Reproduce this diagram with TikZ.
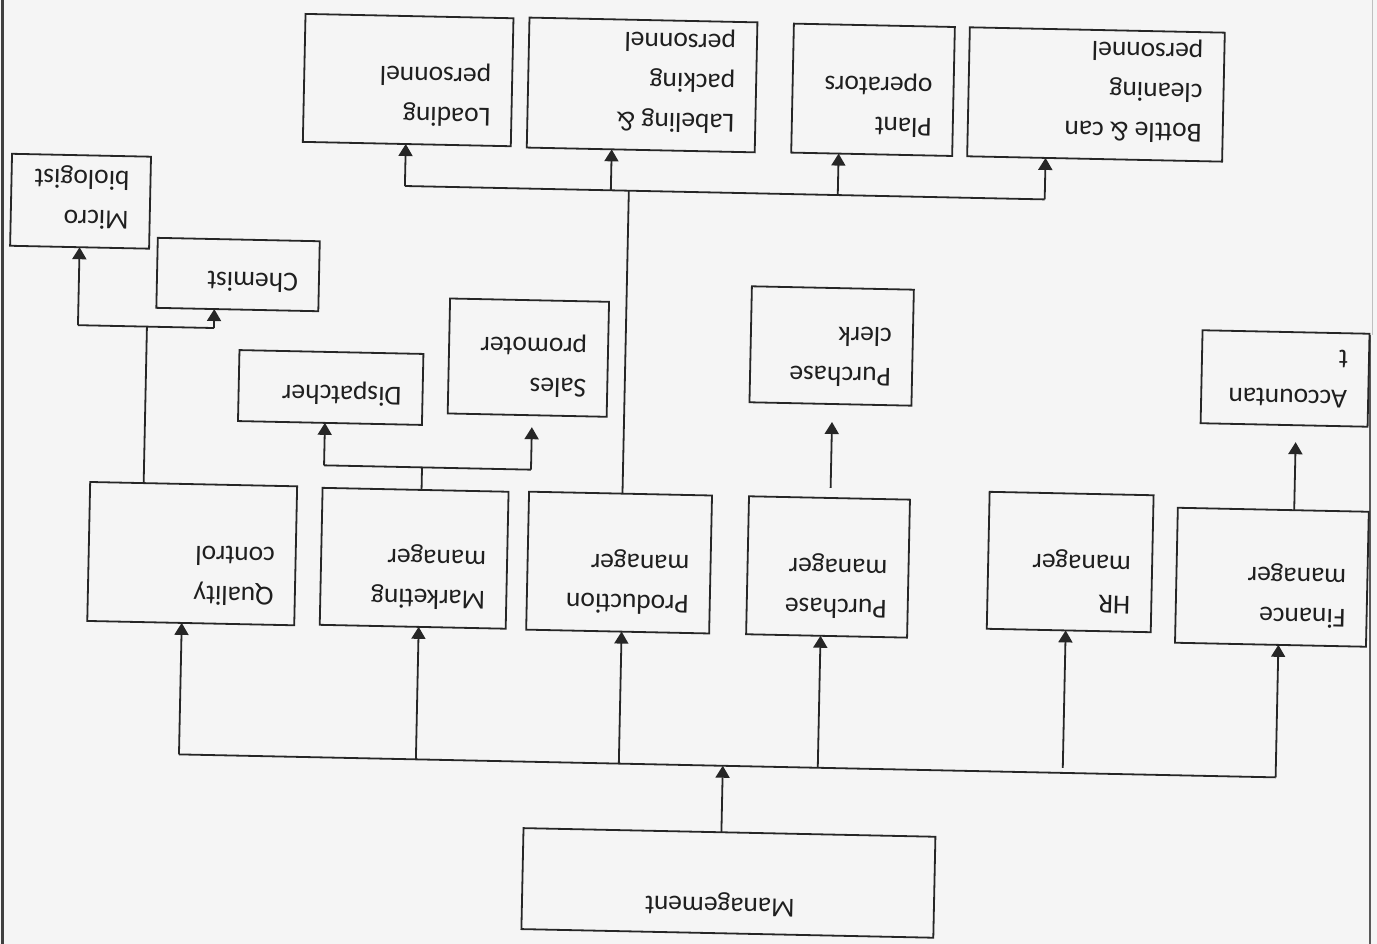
\documentclass[tikz,border=0pt]{standalone}
\usepackage{fontspec}
\setmainfont{Carlito}
\usepackage{tikz}
\usetikzlibrary{arrows.meta}
\newcommand{\unitfont}{\fontsize{27.5}{40}\selectfont}
\newcommand{\unitpad}{21}
\tikzstyle{unit}=[draw=black!85, line width=1.8pt, inner sep=0, outer sep=0]
\tikzstyle{unittext}=[inner sep=0, outer sep=0, rotate=180, align=left, font=\unitfont, text=black!88]
\tikzstyle{link}=[draw=black!85, line width=1.8pt]
\tikzstyle{uplink}=[link, -{Triangle[length=12pt, width=14pt]}]
\tikzstyle{orgchart}=[x=1pt, y=-1pt,
                      % the scanned page is turned a little
                      tilt/.style={rotate around={-1.2:(688,472)}, transform shape}]

\begin{document}
\begin{tikzpicture}[orgchart]
    \useasboundingbox[fill=black!4] (0,0) rectangle (1377,944);
    \draw[line width=3pt, black!75] (2,0) -- (2,944);
    \draw[line width=1pt, black!25] (1372,0) -- (1372,335);
    \draw[line width=2.5pt, black!65] (1370,335) -- (1370,944);
    \begin{scope}[tilt]
        % top row
        \node[unit, minimum width=208, minimum height=128] (load) at (400,86) {};
        \node[unit, minimum width=228, minimum height=130] (pack) at (634,86) {};
        \node[unit, minimum width=161, minimum height=129] (plant) at (865,86) {};
        \node[unit, minimum width=255, minimum height=129] (bottle) at (1088,86) {};
        \node[unit, minimum width=139, minimum height=92] (micro) at (75,214) {};
        \node[unit, minimum width=162, minimum height=70] (chem) at (234,284) {};
        \node[unit, minimum width=184, minimum height=71] (disp) at (329,395) {};
        \node[unit, minimum width=159, minimum height=115] (sales) at (526,361) {};
        \node[unit, minimum width=162, minimum height=116] (clerk) at (829,343) {};
        \node[unit, minimum width=167, minimum height=93] (acct) at (1283,366) {};
        % managers
        \node[unit, minimum width=207, minimum height=139] (qc) at (194,564) {};
        \node[unit, minimum width=186, minimum height=137] (mkt) at (416,564) {};
        \node[unit, minimum width=183, minimum height=138] (prod) at (621,564) {};
        \node[unit, minimum width=161, minimum height=138] (pm) at (830,564) {};
        \node[unit, minimum width=164, minimum height=137] (hr) at (1072,554) {};
        \node[unit, minimum width=191, minimum height=135] (fm) at (1274,565) {};
        \node[unit, minimum width=412, minimum height=101] (mgmt) at (737,882) {};

        \node[unittext, anchor=north west] (loadtext) at ([shift={(-\unitpad,-18)}]load.south east) {Loading\\personnel};
        \node[unittext, anchor=north west] (packtext) at ([shift={(-\unitpad,-18)}]pack.south east) {Labeling \&\\packing\\personnel};
        \node[unittext, anchor=north west] (planttext) at ([shift={(-\unitpad,-18)}]plant.south east) {Plant\\operators};
        \node[unittext, anchor=north west] (bottletext) at ([shift={(-\unitpad,-18)}]bottle.south east) {Bottle \& can\\cleaning\\personnel};
        \node[unittext, anchor=north west] (microtext) at ([shift={(-\unitpad,-18)}]micro.south east) {Micro\\biologist};
        \node[unittext, anchor=north west] (chemtext) at ([shift={(-\unitpad,-18)}]chem.south east) {Chemist};
        \node[unittext, anchor=north west] (disptext) at ([shift={(-\unitpad,-18)}]disp.south east) {Dispatcher};
        \node[unittext, anchor=north west] (salestext) at ([shift={(-\unitpad,-18)}]sales.south east) {Sales\\promoter};
        \node[unittext, anchor=north west] (clerktext) at ([shift={(-\unitpad,-18)}]clerk.south east) {Purchase\\clerk};
        \node[unittext, anchor=north west] (accttext) at ([shift={(-\unitpad,-18)}]acct.south east) {Accountan\\t};
        \node[unittext, anchor=north west] (qctext) at ([shift={(-\unitpad,-18)}]qc.south east) {Quality\\control};
        \node[unittext, anchor=north west] (mkttext) at ([shift={(-\unitpad,-18)}]mkt.south east) {Marketing\\manager};
        \node[unittext, anchor=north west] (prodtext) at ([shift={(-\unitpad,-18)}]prod.south east) {Production\\manager};
        \node[unittext, anchor=north west] (pmtext) at ([shift={(-\unitpad,-18)}]pm.south east) {Purchase\\manager};
        \node[unittext, anchor=north west] (hrtext) at ([shift={(-\unitpad,-18)}]hr.south east) {HR\\manager};
        \node[unittext, anchor=north west] (fmtext) at ([shift={(-\unitpad,-18)}]fm.south east) {Finance\\manager};
        \node[unittext, anchor=north] (mgmttext) at ([shift={(-8,-18)}]mgmt.south) {Management};

        % management to managers
        \coordinate (bus) at (729,765);
        \draw[uplink] (bus |- mgmt.north) -- (bus);
        \draw[link] (185,765) -- (1282,765);
        \foreach \n/\x in {qc/185, mkt/422, prod/625, pm/824, fm/1282} {
            \coordinate (b\n) at (\x,765);
            \draw[uplink] (b\n) -- (b\n |- \n.south);
        }
        \coordinate (bhr) at (1069,765);
        \draw[uplink, shorten <=5pt] (bhr) -- (bhr |- hr.south);

        % production staff
        \coordinate (pup) at (623,192);
        \draw[link] (pup |- prod.north) -- (pup);
        \foreach \n/\x in {load/399, pack/605, plant/832, bottle/1039} {
            \coordinate (t\n) at (\x,192);
            \draw[uplink] (t\n) -- (t\n |- \n.south);
        }
        \draw[link] (tload) -- (tbottle);

        % quality control
        \coordinate (qup) at (144,338);
        \draw[link] (qup |- qc.north) -- (qup);
        \coordinate (tmicro) at (75,338);
        \coordinate (tchem) at (211,338);
        \draw[link] (tmicro) -- (tchem);
        \draw[uplink] (tmicro) -- (tmicro |- micro.south);
        \draw[uplink] (tchem) -- (tchem |- chem.south);

        % marketing
        \coordinate (mup) at (422,473);
        \draw[link] (mup |- mkt.north) -- (mup);
        \coordinate (tdisp) at (324,473);
        \coordinate (tsales) at (531,473);
        \draw[link] (tdisp) -- (tsales);
        \draw[uplink] (tdisp) -- (tdisp |- disp.south);
        \draw[uplink, shorten >=12pt] (tsales) -- (tsales |- sales.south);

        % purchase and finance
        \coordinate (pc) at (831,420);
        \draw[uplink, shorten <=10pt, shorten >=18pt] (pc |- pm.north) -- (pc |- clerk.south);
        \coordinate (fc) at (1295,420);
        \draw[uplink, shorten >=17pt] (fc |- fm.north) -- (fc |- acct.south);
    \end{scope}
\end{tikzpicture}
\end{document}
